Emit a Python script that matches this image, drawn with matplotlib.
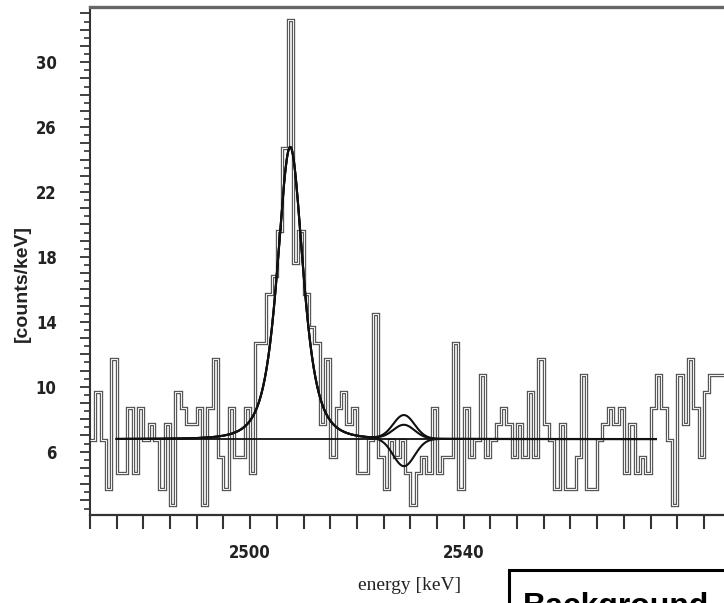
import numpy as np
import matplotlib
matplotlib.use("Agg")
import matplotlib.pyplot as plt
from matplotlib.ticker import MultipleLocator, FuncFormatter
from matplotlib.patches import Rectangle

# spectrum, 1 keV bins starting at 2470 keV
e_start = 2470
counts = [6.7, 9.7, 6.7, 3.7, 11.7, 4.7, 4.7, 8.7, 4.7, 8.7,
          6.7, 7.7, 6.7, 3.7, 7.7, 2.7, 9.7, 8.7, 7.7, 7.7,
          8.7, 2.7, 8.7, 11.7, 5.7, 3.7, 8.7, 5.7, 5.7, 8.7,
          4.7, 12.7, 12.7, 15.7, 16.8, 19.6, 24.7, 32.6, 17.6, 19.6,
          15.7, 13.7, 12.7, 7.7, 11.7, 5.7, 8.7, 9.7, 7.7, 8.7,
          4.7, 4.7, 6.7, 14.5, 5.7, 3.7, 6.7, 5.7, 6.7, 4.7,
          2.7, 4.7, 5.7, 4.7, 8.7, 4.7, 5.7, 5.7, 12.7, 3.7,
          8.7, 5.7, 6.7, 10.7, 5.7, 6.7, 7.7, 8.7, 7.7, 5.7,
          7.7, 5.7, 9.7, 5.7, 11.7, 7.7, 6.7, 3.7, 7.7, 3.7,
          3.7, 5.7, 10.7, 3.7, 3.7, 6.7, 7.7, 8.7, 7.7, 8.7,
          4.7, 7.7, 4.7, 5.7, 4.7, 8.7, 10.7, 8.7, 6.7, 2.7,
          10.7, 7.7, 11.7, 8.7, 5.7, 9.7, 10.7, 10.7, 10.7, 10.7]
edges = e_start + np.arange(len(counts) + 1)

# fit: flat background + 2505 keV line + signal window at ~2529 keV
fit_lo, fit_hi = 2475, 2576
bkg = 6.78
peak_pos, peak_amp, peak_hwhm = 2507.5, 18.0, 2.8
sig_pos, sig_width = 2528.8, 2.0
sig_amps = [1.45, 0.85, -1.7]


def line_shape(x):
    m = 2.0
    return peak_amp / (1 + ((x - peak_pos) / peak_hwhm) ** 2 * (2 ** (1 / m) - 1)) ** m


fig = plt.figure(figsize=(7.24, 6.03), dpi=100)
ax = fig.add_axes([90 / 724, 88 / 603, 694 / 724, 508 / 603])

# hollow-looking histogram line
ax.stairs(counts, edges, baseline=None, color="#505050", lw=2.4, zorder=2)
ax.stairs(counts, edges, baseline=None, color="#f2f2f2", lw=0.8, zorder=3)

xf = np.linspace(fit_lo, fit_hi, 1200)
ax.plot([fit_lo, fit_hi], [bkg, bkg], color="#111111", lw=1.3, zorder=4)
for a in sig_amps:
    yf = bkg + line_shape(xf) + a * np.exp(-0.5 * ((xf - sig_pos) / sig_width) ** 2)
    ax.plot(xf, yf, color="#111111", lw=1.5, zorder=5)

ax.set_xlim(2470, 2600)
ax.set_ylim(2.1, 33.4)

ax.spines["right"].set_visible(False)
ax.spines["top"].set_linewidth(2.4)
ax.spines["top"].set_color("#666666")
ax.spines["left"].set_linewidth(1.5)
ax.spines["left"].set_color("#333333")
ax.spines["bottom"].set_linewidth(1.6)
ax.spines["bottom"].set_color("#333333")

ax.xaxis.set_major_locator(MultipleLocator(5))
ax.xaxis.set_major_formatter(FuncFormatter(lambda v, p: f"{v:.0f}" if round(v) in (2500, 2540) else ""))
ax.yaxis.set_major_locator(MultipleLocator(1))
ax.yaxis.set_minor_locator(MultipleLocator(0.5))
ax.yaxis.set_major_formatter(FuncFormatter(lambda v, p: f"{v:.0f}" if round(v) % 4 == 2 and 6 <= v <= 30 else ""))

ax.tick_params(axis="x", direction="out", length=10, width=1.5, color="#333333", pad=11)
ax.tick_params(axis="y", which="major", direction="out", length=7, width=1.3, color="#333333", pad=17)
ax.tick_params(axis="y", which="minor", direction="out", length=4.5, width=1.2, color="#333333")
for t in ax.get_xticklabels() + ax.get_yticklabels():
    t.set_family("DejaVu Sans")
    t.set_stretch("condensed")
    t.set_fontsize(12)
    t.set_fontweight("bold")
    t.set_color("#222222")

fig.text(22 / 724, 1 - 283 / 603, "[counts/keV]", rotation=90, ha="center", va="center",
         fontsize=14, fontweight="bold", color="#222222", family=["Liberation Sans", "DejaVu Sans"])
fig.text(410 / 724, 1 - 586 / 603, "energy [keV]", ha="center", va="center",
         fontsize=14, color="#222222", family=["Liberation Serif", "DejaVu Serif"])

# label box in the lower right corner
fig.patches.append(Rectangle((509 / 724, -0.2), 0.5, 0.2 + 33 / 603, transform=fig.transFigure,
                             facecolor="white", edgecolor="black", lw=2.2))
fig.text(523 / 724, 1 - 592 / 603, "Background", ha="left", va="top", fontsize=23,
         fontweight="bold", color="black", family=["Liberation Sans", "DejaVu Sans"])

fig.savefig("out.png", dpi=100)
